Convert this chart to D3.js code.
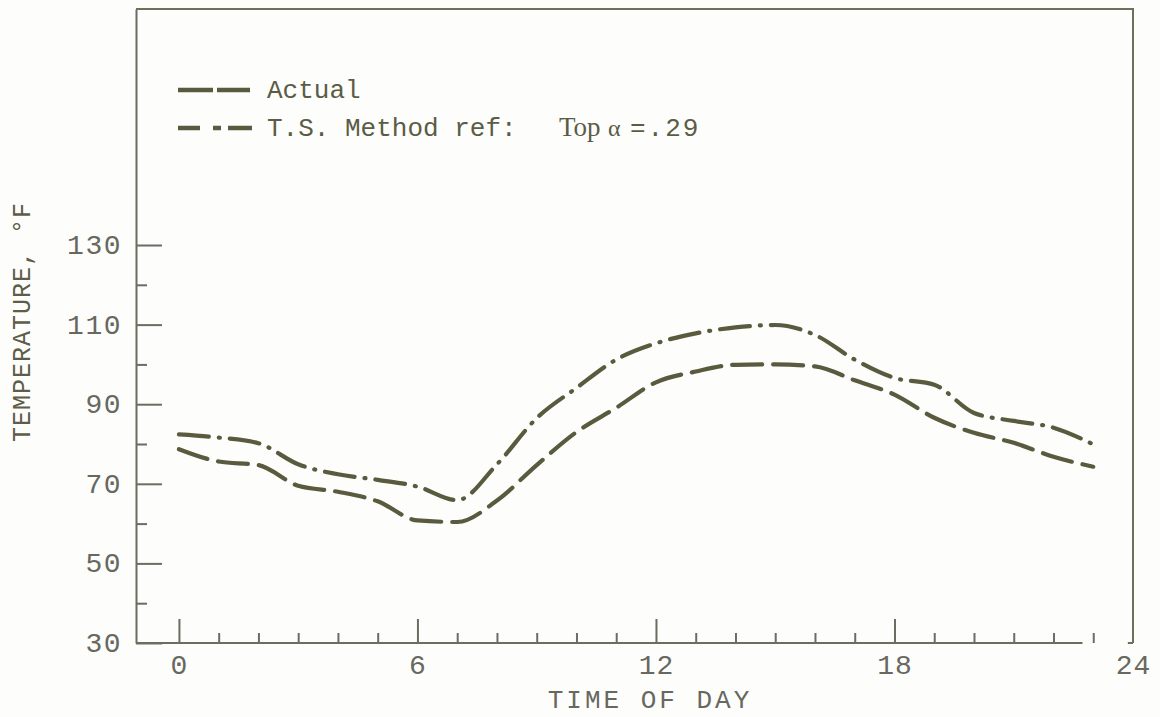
<!DOCTYPE html>
<html>
<head>
<meta charset="utf-8">
<script src="https://cdn.jsdelivr.net/npm/d3@7"></script>
<style>
  html, body { margin: 0; padding: 0; background: #fdfdfc; }
  svg { display: block; }
</style>
</head>
<body>
<svg id="chart" width="1160" height="717"></svg>
<script>
// Hourly temperatures (°F), hour 0 through 23
const hours = d3.range(0, 24);
const actual = [78.7, 75.6, 74.7, 69.5, 68.0, 65.6, 60.8, 60.4, 65.8, 74.7, 83.0, 89.1,
                95.5, 98.2, 99.9, 100.0, 99.5, 96.0, 92.4, 86.6, 82.8, 80.3, 76.8, 74.3];
const tsMethod = [82.4, 81.6, 80.2, 74.9, 72.4, 71.0, 69.3, 65.9, 74.9, 86.5, 94.1, 101.2,
                  105.3, 107.8, 109.3, 109.9, 107.4, 101.2, 96.6, 94.9, 87.8, 85.8, 84.1, 79.9];

// Axis ticks and labels
const yMajor = [30, 50, 70, 90, 110, 130];
const yMinor = [40, 60, 80, 100, 120];
const xMajor = [0, 6, 12, 18, 24];
const xMinor = [1, 2, 3, 4, 5, 7, 8, 9, 10, 11, 13, 14, 15, 16, 17, 19, 20, 21, 22, 23];

const legendLabels = ["Actual", "T.S. Method ref:"];
const legendNote = ["Top", "α", "=.29"];
const xTitle = "TIME OF DAY";
const yTitle = "TEMPERATURE, °F";

const ink = "#5a5b3e";
const axisInk = "#6c6c60";
const labelInk = "#68685f";

const svg = d3.select("#chart");

const plotLeft = 136, plotRight = 1133, plotTop = 9, plotBottom = 643;
const x = d3.scaleLinear().domain([-1.08, 24]).range([plotLeft, plotRight]);
const y = d3.scaleLinear().domain([30, 189.3]).range([plotBottom, plotTop]);

// ---- Y axis (ticks pointing into the plot) ----
const yAxis = d3.axisLeft(y)
  .tickValues(yMajor.concat(yMinor).sort(d3.ascending))
  .tickSizeInner(-26)
  .tickSizeOuter(0)
  .tickPadding(14)
  .tickFormat(d => yMajor.includes(d) ? d : "");

const gy = svg.append("g").attr("transform", `translate(${plotLeft},0)`).call(yAxis);
gy.select(".domain").attr("stroke", axisInk).attr("stroke-width", 2);
gy.selectAll(".tick line")
  .attr("stroke", axisInk).attr("stroke-width", 2)
  .attr("x2", d => yMajor.includes(d) ? 26 : 11);
gy.selectAll(".tick text")
  .attr("fill", labelInk)
  .style("font-family", "'Liberation Mono', monospace")
  .style("font-size", "28px")
  .style("letter-spacing", "1.5px")
  .attr("dy", "0.3em");

// ---- X axis (ticks pointing up) ----
const xAxis = d3.axisBottom(x)
  .tickValues(xMajor.concat(xMinor).sort(d3.ascending))
  .tickSizeInner(-24)
  .tickSizeOuter(0)
  .tickPadding(11)
  .tickFormat(d => xMajor.includes(d) ? d : "");

const gx = svg.append("g").attr("transform", `translate(0,${plotBottom})`).call(xAxis);
gx.select(".domain").remove();
gx.selectAll(".tick line")
  .attr("stroke", axisInk).attr("stroke-width", 2)
  .attr("y2", d => xMajor.includes(d) ? -24 : -10);
gx.selectAll(".tick").filter(d => d === 24).select("line").remove();
gx.selectAll(".tick text")
  .attr("fill", labelInk)
  .style("font-family", "'Liberation Mono', monospace")
  .style("font-size", "28px")
  .style("letter-spacing", "1px");

// Baseline, broken just before the right frame edge
svg.append("line")
  .attr("x1", x(-1.08)).attr("x2", x(22.73))
  .attr("y1", y(30)).attr("y2", y(30))
  .attr("stroke", axisInk).attr("stroke-width", 2);
svg.append("line")
  .attr("x1", x(23.87)).attr("x2", x(24))
  .attr("y1", y(30)).attr("y2", y(30))
  .attr("stroke", axisInk).attr("stroke-width", 2);

// Frame: top and right edges
svg.append("path")
  .attr("d", `M${x(-1.08)},${y(189.3)}H${x(24)}V${y(30)}`)
  .attr("fill", "none")
  .attr("stroke", "#6f705c")
  .attr("stroke-width", 2);

// ---- Axis titles ----
svg.append("text")
  .attr("x", 650)
  .attr("y", 708)
  .attr("text-anchor", "middle")
  .attr("fill", labelInk)
  .style("font-family", "'Liberation Mono', monospace")
  .style("font-size", "26px")
  .style("letter-spacing", "3px")
  .text(xTitle);

svg.append("text")
  .attr("transform", "translate(30,322) rotate(-90)")
  .attr("text-anchor", "middle")
  .attr("fill", "#5d5d48")
  .style("font-family", "'Liberation Mono', monospace")
  .style("font-size", "25px")
  .style("letter-spacing", "1px")
  .text(yTitle);

// ---- Data lines ----
const line = (values) => d3.line()
  .x((d, i) => x(hours[i]))
  .y(d => y(d))
  .curve(d3.curveMonotoneX)(values);

svg.append("path")
  .attr("d", line(actual))
  .attr("fill", "none")
  .attr("stroke", ink)
  .attr("stroke-width", 4.2)
  .attr("stroke-linecap", "round")
  .attr("stroke-dasharray", "30,11");

svg.append("path")
  .attr("d", line(tsMethod))
  .attr("fill", "none")
  .attr("stroke", ink)
  .attr("stroke-width", 4.2)
  .attr("stroke-linecap", "round")
  .attr("stroke-dasharray", "30,10,1,10");

// ---- Legend ----
const legend = svg.append("g");
const legendRows = [
  { label: legendLabels[0], y: 90, dash: "35,4,33" },
  { label: legendLabels[1], y: 128, dash: "22,13,8,7,24" }
];
legendRows.forEach(r => {
  legend.append("line")
    .attr("x1", 178).attr("x2", 252)
    .attr("y1", r.y).attr("y2", r.y)
    .attr("stroke", ink)
    .attr("stroke-width", 4.5)
    .attr("stroke-dasharray", r.dash);
  legend.append("text")
    .attr("x", 267).attr("y", r.y + 8)
    .attr("fill", "#5b5c46")
    .style("font-family", "'Liberation Mono', monospace")
    .style("font-size", "26px")
    .text(r.label);
});
const note = legend.append("text")
  .attr("y", 136)
  .attr("fill", "#5b5c46")
  .style("font-size", "26px");
note.append("tspan").attr("x", 559)
  .style("font-family", "'Liberation Serif', serif")
  .style("font-size", "27px")
  .text(legendNote[0]);
note.append("tspan").attr("x", 608)
  .style("font-family", "'Liberation Serif', serif")
  .style("font-size", "24px")
  .text(legendNote[1]);
note.append("tspan").attr("x", 630)
  .style("font-family", "'Liberation Mono', monospace")
  .style("letter-spacing", "2px")
  .text(legendNote[2]);
</script>
</body>
</html>
